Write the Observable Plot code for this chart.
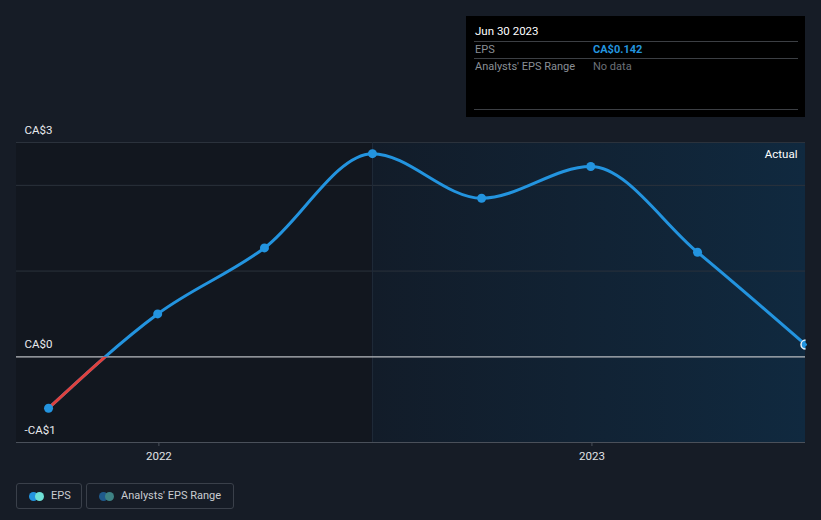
<!DOCTYPE html>
<html>
<head>
<meta charset="utf-8">
<script src="https://cdn.jsdelivr.net/npm/d3@7"></script>
<script src="https://cdn.jsdelivr.net/npm/@observablehq/plot@0.6"></script>
<style>
  html, body { margin: 0; padding: 0; background: #161c26; }
  body { width: 821px; height: 520px; overflow: hidden; font-family: Roboto, "Noto Sans", sans-serif; }
  #wrap { position: relative; width: 821px; height: 520px; }
  #chart { position: absolute; left: 0; top: 0; }
  #tip { position: absolute; left: 466px; top: 16px; width: 339px; height: 101px; background: #000; }
  #tip .title { position: absolute; left: 9px; top: 8px; color: #fff; font-size: 11.5px; }
  #tip .hr { position: absolute; left: 8px; width: 324px; height: 1px; background: #3c3f44; }
  #tip .lab { position: absolute; left: 9px; color: #8a8f96; font-size: 11px; }
  #tip .val { position: absolute; left: 127px; font-size: 11px; }
  .legend { position: absolute; top: 483px; height: 26px; border: 1px solid #3a404a; border-radius: 3px; box-sizing: border-box; color: #c9ccd1; font-size: 11px; line-height: 24px; }
  .legend .c { position: absolute; top: 8px; width: 9px; height: 9px; border-radius: 50%; }
  .legend span.t { position: absolute; top: 0; white-space: nowrap; }
</style>
</head>
<body>
<div id="wrap">
  <div id="chart"></div>
  <div id="tip">
    <div class="title" id="tipTitle"></div>
    <div class="hr" style="top:25px"></div>
    <div class="lab" style="top:27px">EPS</div>
    <div class="val" id="tipVal" style="top:27px;color:#2394df;font-weight:bold"></div>
    <div class="hr" style="top:42px"></div>
    <div class="lab" style="top:44px">Analysts' EPS Range</div>
    <div class="val" style="top:44px;color:#6b7078">No data</div>
    <div class="hr" style="top:93px"></div>
  </div>
  <div class="legend" style="left:16px;width:66px">
    <div class="c" style="left:12px;background:#2394df"></div>
    <div class="c" style="left:18px;background:#6ee0d6"></div>
    <span class="t" style="left:34px">EPS</span>
  </div>
  <div class="legend" style="left:86px;width:148px">
    <div class="c" style="left:12px;background:#1f5a8c"></div>
    <div class="c" style="left:18px;background:#3e8284"></div>
    <span class="t" style="left:34px">Analysts' EPS Range</span>
  </div>
</div>
<script>
// ---- data ----
const dates = ["2021-09-30", "2021-12-31", "2022-03-31", "2022-06-30", "2022-09-30", "2022-12-31", "2023-03-31", "2023-06-30"];
const eps = [-0.60, 0.50, 1.27, 2.37, 1.85, 2.22, 1.22, 0.142];
const yGrid = [-1, 0, 1, 2, 2.5];
const yLabelValues = [2.5, 0, -1];
const yLabels = ["CA$3", "CA$0", "-CA$1"];
const xTicks = ["2022-01-01", "2023-01-01"];
const xDomain = ["2021-09-03", "2023-06-30"];
const yDomain = [-1, 2.5];
const actualStart = "2022-06-30";
const tipDate = "Jun 30 2023";
const tipValue = "CA$0.142";

const parse = d3.utcParse("%Y-%m-%d");
const data = dates.map((d, i) => ({date: parse(d), eps: eps[i]}));
const x0 = parse(xDomain[0]), x1 = parse(xDomain[1]), xa = parse(actualStart);

const plot = Plot.plot({
  width: 821,
  height: 470,
  marginLeft: 16,
  marginRight: 16,
  marginTop: 142,
  marginBottom: 28,
  style: {background: "transparent", fontFamily: "Roboto, sans-serif", fontSize: "11px", color: "#d0d3d8"},
  x: {type: "utc", domain: [x0, x1]},
  y: {domain: yDomain, axis: null},
  marks: [
    Plot.rect([{a: x0, b: xa}], {x1: "a", x2: "b", y1: yDomain[0], y2: yDomain[1], fill: "#12171f"}),
    Plot.rect([{a: xa, b: x1}], {x1: "a", x2: "b", y1: yDomain[0], y2: yDomain[1], fill: "url(#actualGrad)"}),
    Plot.ruleY(yGrid.filter(v => v !== 0 && v !== -1), {stroke: "#2b323c", strokeWidth: 1}),
    Plot.ruleX([xa], {stroke: "#1f2b39", strokeWidth: 1}),
    Plot.ruleY([-1], {stroke: "#4a505a", strokeWidth: 1}),
    Plot.ruleY([0], {stroke: "#b9bcc1", strokeWidth: 1.2}),
    Plot.axisX(xTicks.map(parse), {tickFormat: d3.utcFormat("%Y"), tickSize: 4, tickPadding: 5, stroke: "#4a505a", color: "#e0e2e5", fontSize: 11.5}),
    Plot.text(yLabelValues, {x: () => x0, y: d => d, text: (d, i) => yLabels[i], textAnchor: "start", dx: 8, dy: -12, fill: "#e8eaed", fontSize: 11.5}),
    Plot.text(["Actual"], {x: () => x1, y: () => yDomain[1], text: d => d, textAnchor: "end", dx: -8, dy: 12, fill: "#ffffff", fontSize: 11.5}),
    Plot.line(data, {x: "date", y: "eps", curve: "monotone-x", stroke: "#2394df", strokeWidth: 3}),
    Plot.line(data, {x: "date", y: "eps", curve: "monotone-x", stroke: "#e0413d", strokeWidth: 3}),
    Plot.dot(data.slice(0, -1), {x: "date", y: "eps", r: 4.5, fill: "#2394df"}),
    Plot.dot(data.slice(-1), {x: "date", y: "eps", r: 4.5, fill: "#2394df", stroke: "#e8f2fb", strokeWidth: 1.5})
  ]
});

// defs: gradient + clip for the negative part
const svg = d3.select(plot);
const ys = plot.scale("y");
const xs = plot.scale("x");
const defs = svg.insert("defs", ":first-child");
const grad = defs.append("linearGradient").attr("id", "actualGrad").attr("x1", "0").attr("x2", "1").attr("y1", "0").attr("y2", "0");
grad.append("stop").attr("offset", "0").attr("stop-color", "#121c29");
grad.append("stop").attr("offset", "1").attr("stop-color", "#10293f");
const yZero = ys.apply(0), yBottom = ys.apply(yDomain[0]);
defs.append("clipPath").attr("id", "negClip").append("rect")
  .attr("x", xs.apply(x0)).attr("width", xs.apply(x1) - xs.apply(x0))
  .attr("y", yZero).attr("height", yBottom - yZero + 10);
const lines = svg.selectAll('g[aria-label="line"]').nodes();
d3.select(lines[1]).attr("clip-path", "url(#negClip)");
// clip dots at the right edge of the frame
defs.append("clipPath").attr("id", "frameClip").append("rect")
  .attr("x", 0).attr("width", xs.apply(x1)).attr("y", 0).attr("height", 470);
svg.selectAll('g[aria-label="dot"]').attr("clip-path", "url(#frameClip)");

document.getElementById("chart").appendChild(plot);
document.getElementById("tipTitle").textContent = tipDate;
document.getElementById("tipVal").textContent = tipValue;
</script>
</body>
</html>
